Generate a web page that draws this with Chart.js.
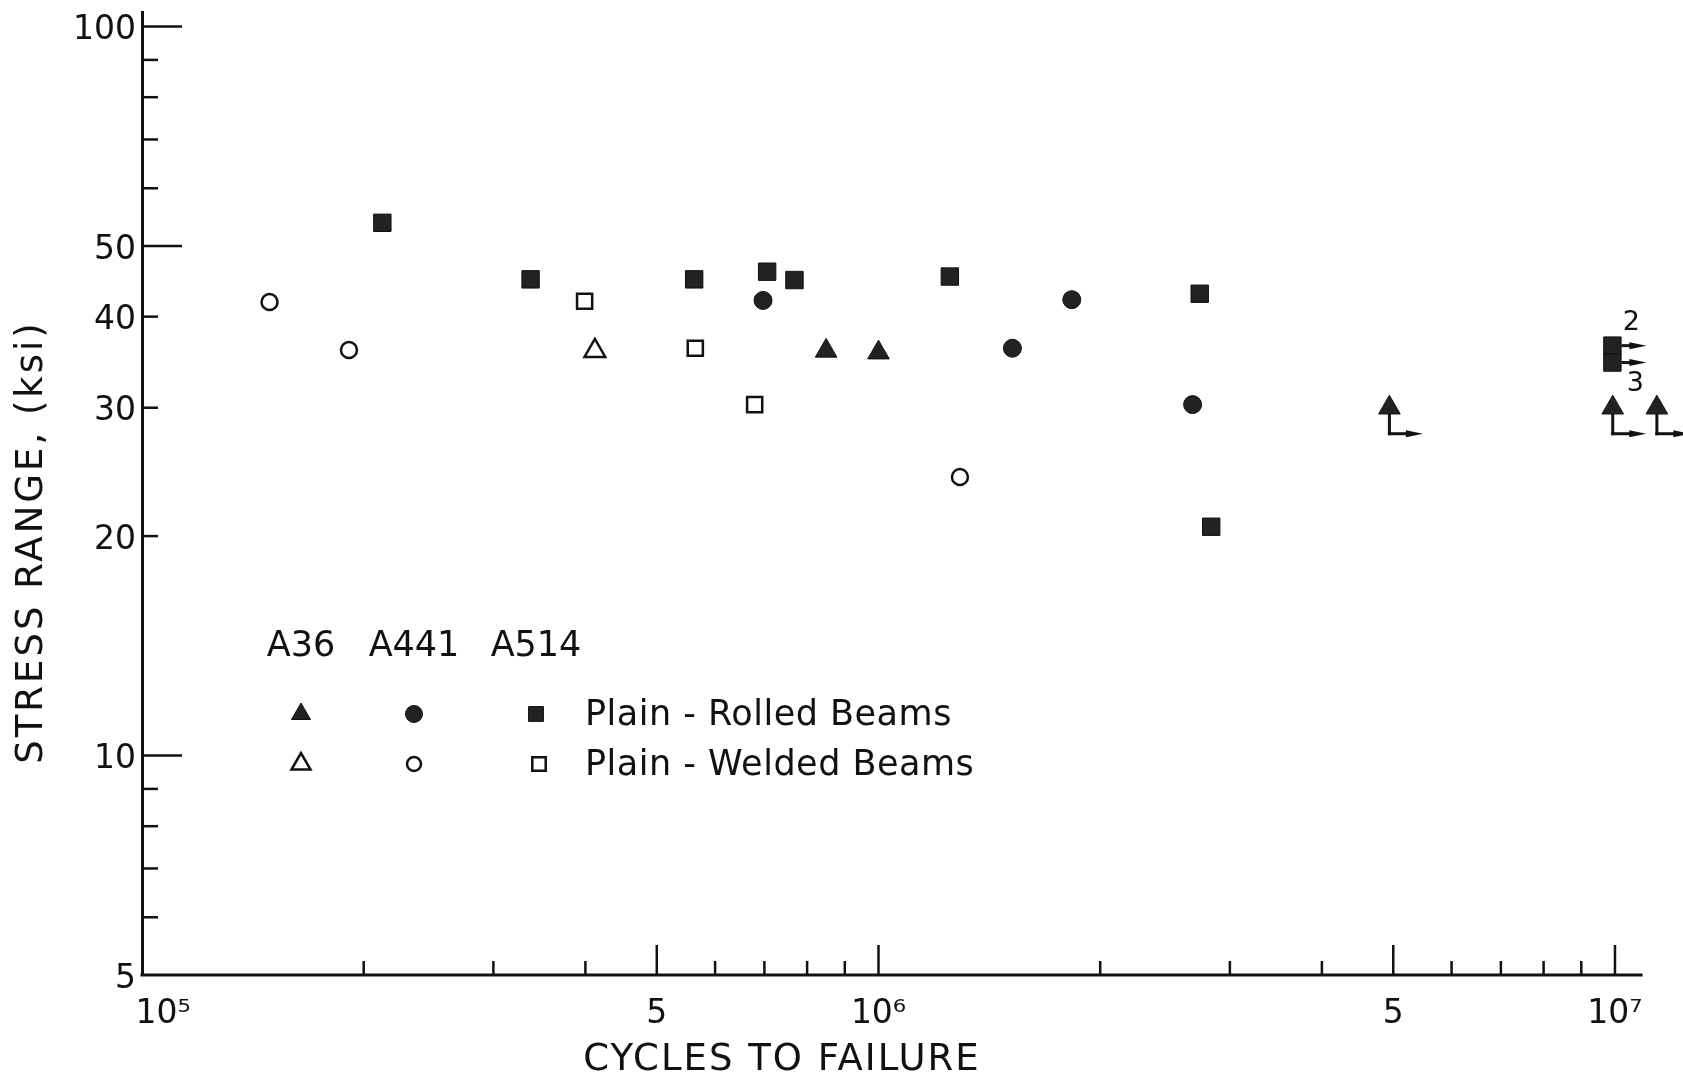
<!DOCTYPE html>
<html>
<head>
<meta charset="utf-8">
<title>Stress range vs cycles to failure</title>
<script src="https://cdn.jsdelivr.net/npm/chart.js@4.4.1/dist/chart.umd.min.js"></script>
<style>
  html, body { margin: 0; padding: 0; background: #fff; overflow: hidden; }
  canvas { display: block; }
</style>
</head>
<body>
<canvas id="chart" width="1683" height="1079"></canvas>
<script>
// Cycles to failure (N) and stress range (ksi)
const a36RolledN = [8.49e5, 1.00e6];
const a36RolledS = [35.9, 35.7];
const a36RunoutN = [4.94e6, 9.93e6, 1.14e7];
const a36RunoutS = [30.0, 30.0, 30.0];

const a441RolledN = [6.97e5, 1.52e6, 1.83e6, 2.67e6];
const a441RolledS = [42.1, 36.2, 42.2, 30.3];

const a514RolledN = [2.12e5, 3.37e5, 5.62e5, 7.06e5, 7.69e5, 1.25e6, 2.73e6, 2.83e6];
const a514RolledS = [53.8, 45.0, 45.0, 46.1, 44.9, 45.4, 43.0, 20.6];
const a514RunoutN = [9.92e6, 9.92e6];
const a514RunoutS = [36.5, 34.6];
const a514RunoutCounts = [2, 3];

const a36WeldedN = [4.12e5];
const a36WeldedS = [35.9];
const a441WeldedN = [1.49e5, 1.91e5, 1.29e6];
const a441WeldedS = [41.9, 36.0, 24.1];
const a514WeldedN = [3.99e5, 5.64e5, 6.79e5];
const a514WeldedS = [42.0, 36.2, 30.3];

// axes
const xMin = 1e5, xMax = 1.237e7, xAxisEnd = 1.09e7;
const yMin = 5, yMax = 104.7;
const xTicks = [1e5, 2e5, 3e5, 4e5, 5e5, 6e5, 7e5, 8e5, 9e5,
                1e6, 2e6, 3e6, 4e6, 5e6, 6e6, 7e6, 8e6, 9e6, 1e7];
const xLabels = {1e5: '10⁵', 5e5: '5', 1e6: '10⁶', 5e6: '5', 1e7: '10⁷'};
const xMajor = [5e5, 1e6, 5e6, 1e7];
const yTicks = [5, 6, 7, 8, 9, 10, 20, 30, 40, 50, 60, 70, 80, 90, 100];
const yLabels = {5: '5', 10: '10', 20: '20', 30: '30', 40: '40', 50: '50', 100: '100'};
const yMajor = [10, 50, 100];

const steels = ['A36', 'A441', 'A514'];
const beamTypes = ['Plain - Rolled Beams', 'Plain - Welded Beams'];

const ink = '#111';
const solid = '#222';
const font = '"DejaVu Sans", "Liberation Sans", sans-serif';

const pts = (n, s) => n.map((v, i) => ({x: v, y: s[i]}));

function filled(label, data, style, r, extra) {
  return Object.assign({
    label, data, pointStyle: style, pointRadius: r,
    backgroundColor: solid, borderColor: ink, borderWidth: 1
  }, extra || {});
}
function open(label, data, style, r) {
  return {
    label, data, pointStyle: style, pointRadius: r,
    backgroundColor: '#fff', borderColor: ink, borderWidth: 2.5
  };
}

const datasets = [
  filled('A36 rolled', pts(a36RolledN, a36RolledS), 'triangle', 12.5),
  filled('A36 rolled, no failure', pts(a36RunoutN, a36RunoutS), 'triangle', 12.5, {runout: 'stem'}),
  filled('A441 rolled', pts(a441RolledN, a441RolledS), 'circle', 9),
  filled('A514 rolled', pts(a514RolledN, a514RolledS), 'rect', 12.3),
  filled('A514 rolled, no failure', pts(a514RunoutN, a514RunoutS), 'rect', 12.3,
         {runout: 'arrow', counts: a514RunoutCounts}),
  open('A36 welded', pts(a36WeldedN, a36WeldedS), 'triangle', 12),
  open('A441 welded', pts(a441WeldedN, a441WeldedS), 'circle', 8),
  open('A514 welded', pts(a514WeldedN, a514WeldedS), 'rect', 10.7)
];

// small marker helper for the hand-drawn key
function marker(ctx, style, x, y, r, isFilled) {
  ctx.beginPath();
  if (style === 'circle') {
    ctx.arc(x, y, r, 0, Math.PI * 2);
  } else if (style === 'rect') {
    const h = r * Math.SQRT1_2;
    ctx.rect(x - h, y - h, 2 * h, 2 * h);
  } else {
    const w = r * Math.sqrt(3) / 2;
    ctx.moveTo(x, y - r);
    ctx.lineTo(x + w, y + r / 2);
    ctx.lineTo(x - w, y + r / 2);
    ctx.closePath();
  }
  ctx.fillStyle = isFilled ? solid : '#fff';
  ctx.fill();
  ctx.lineWidth = isFilled ? 1 : 2.5;
  ctx.strokeStyle = ink;
  ctx.stroke();
}

function seg(ctx, x0, y0, x1, y1) {
  ctx.beginPath(); ctx.moveTo(x0, y0); ctx.lineTo(x1, y1); ctx.stroke();
}

function arrowRight(ctx, x, y, len) {
  ctx.lineWidth = 3;
  seg(ctx, x, y, x + len - 10, y);
  ctx.beginPath();
  ctx.moveTo(x + len - 17, y - 3.5);
  ctx.lineTo(x + len, y);
  ctx.lineTo(x + len - 17, y + 3.5);
  ctx.closePath();
  ctx.fill();
}

const paperMarks = {
  id: 'paperMarks',
  afterDatasetsDraw(chart) {
    const {ctx, chartArea: a, scales: {x, y}} = chart;
    ctx.save();
    ctx.strokeStyle = ink;
    ctx.fillStyle = ink;

    // x axis line stops short of the right edge
    ctx.lineWidth = 3;
    seg(ctx, a.left - 1.5, a.bottom, x.getPixelForValue(xAxisEnd), a.bottom);

    // tick marks point into the plot
    ctx.lineWidth = 2.5;
    xTicks.slice(1).forEach(v => {
      const px = x.getPixelForValue(v);
      seg(ctx, px, a.bottom, px, a.bottom - (xMajor.includes(v) ? 30 : 14));
    });
    yTicks.slice(1).forEach(v => {
      const py = y.getPixelForValue(v);
      seg(ctx, a.left, py, a.left + (yMajor.includes(v) ? 40 : 16), py);
    });

    // run-outs (no failure)
    chart.data.datasets.forEach((ds, i) => {
      if (!ds.runout) return;
      chart.getDatasetMeta(i).data.forEach((pt, j) => {
        ctx.strokeStyle = ink;
        ctx.fillStyle = ink;
        if (ds.runout === 'stem') {
          ctx.lineWidth = 3;
          const foot = pt.y + 26;
          seg(ctx, pt.x, pt.y + ds.pointRadius / 2, pt.x, foot + 1.5);
          arrowRight(ctx, pt.x - 1.5, foot, 35);
        } else {
          arrowRight(ctx, pt.x + 9, pt.y, 25);
          ctx.font = '27px ' + font;
          ctx.textAlign = 'center';
          ctx.textBaseline = 'middle';
          const above = j === 0;
          ctx.fillText(String(ds.counts[j]), pt.x + (above ? 19 : 23), pt.y + (above ? -23 : 21));
        }
      });
    });

    // axis titles
    ctx.fillStyle = ink;
    ctx.textAlign = 'center';
    ctx.textBaseline = 'middle';
    ctx.font = '37px ' + font;
    ctx.save();
    ctx.letterSpacing = '2px';
    ctx.fillText('CYCLES TO FAILURE', 782, 1060);
    ctx.restore();
    ctx.save();
    ctx.translate(32, 542);
    ctx.rotate(-Math.PI / 2);
    ctx.letterSpacing = '3px';
    ctx.fillText('STRESS RANGE, (ksi)', 0, 0);
    ctx.restore();

    // key
    const cols = [301, 414, 536];
    const styles = ['triangle', 'circle', 'rect'];
    const keyR = [[11, 8.5, 10.5], [11, 7, 9.5]];
    ctx.font = '35px ' + font;
    ctx.textAlign = 'center';
    steels.forEach((s, k) => ctx.fillText(s, cols[k], 647));
    const rows = [714, 764];
    beamTypes.forEach((t, r) => {
      styles.forEach((st, k) => marker(ctx, st, cols[k] + (r && k === 2 ? 3 : 0), rows[r], keyR[r][k], r === 0));
      ctx.save();
      ctx.fillStyle = ink;
      ctx.font = '35px ' + font;
      ctx.letterSpacing = '0.5px';
      ctx.textAlign = 'left';
      ctx.textBaseline = 'middle';
      ctx.fillText(t, 585, rows[r] + 2);
      ctx.restore();
    });

    ctx.restore();
  }
};

new Chart(document.getElementById('chart'), {
  type: 'scatter',
  data: {datasets},
  plugins: [paperMarks],
  options: {
    responsive: false,
    animation: false,
    events: [],
    layout: {autoPadding: false, padding: {top: 12, right: 0, bottom: 0, left: 0}},
    plugins: {legend: {display: false}, tooltip: {enabled: false}},
    scales: {
      x: {
        type: 'logarithmic',
        min: xMin,
        max: xMax,
        grid: {display: false, drawTicks: false},
        border: {display: false},
        afterBuildTicks: s => { s.ticks = xTicks.map(v => ({value: v})); },
        afterFit: s => { s.height = 104; s.paddingLeft = 0; s.paddingRight = 0; },
        ticks: {
          autoSkip: false,
          maxRotation: 0,
          minRotation: 0,
          padding: 20,
          color: ink,
          font: {family: font, size: 33},
          callback: v => {
            const t = xLabels[v] || '';
            return v === xTicks[0] ? '\u2007\u2007' + t : t;
          }
        }
      },
      y: {
        type: 'logarithmic',
        min: yMin,
        max: yMax,
        grid: {display: false, drawTicks: false},
        border: {display: true, color: ink, width: 3},
        afterBuildTicks: s => { s.ticks = yTicks.map(v => ({value: v})); },
        afterFit: s => { s.width = 142; s.paddingTop = 0; s.paddingBottom = 0; },
        ticks: {
          autoSkip: false,
          padding: 6,
          labelOffset: 4,
          color: ink,
          font: {family: font, size: 33},
          callback: v => yLabels[v] || ''
        }
      }
    }
  }
});
</script>
</body>
</html>
